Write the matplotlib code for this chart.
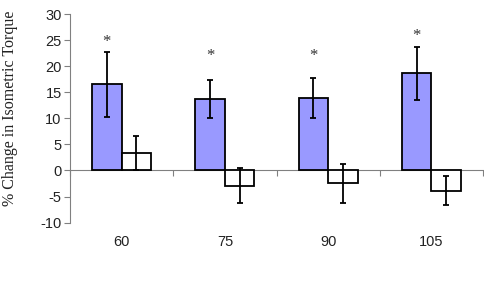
"""Isometric torque change by velocity, grouped bars with error bars."""

import matplotlib.pyplot as plt
import matplotlib.transforms as mtransforms
import numpy as np

categories = ["60", "75", "90", "105"]
group_a = [16.5, 13.7, 13.9, 18.6]
group_a_err = [6.3, 3.6, 3.9, 5.0]
group_b = [3.3, -2.9, -2.5, -3.9]
group_b_err = [3.3, 3.3, 3.8, 2.8]
star_y = [25.3, 22.5, 22.5, 26.4]

plt.rcParams["font.family"] = ["Liberation Sans", "DejaVu Sans"]
plt.rcParams["axes.unicode_minus"] = False

fig = plt.figure(figsize=(4.84, 2.83), dpi=100)
ax = fig.add_axes([70 / 484, 1 - 222.6 / 283, 413 / 484, (222.6 - 14) / 283])

x = np.arange(len(categories))
w = 0.286
err_kw = dict(ecolor="black", elinewidth=1.3, capsize=2.5, capthick=1.3)
ax.bar(x - w / 2, group_a, w, yerr=group_a_err, color="#9999ff",
       edgecolor="black", linewidth=1.3, error_kw=err_kw, zorder=3)
ax.bar(x + w / 2, group_b, w, yerr=group_b_err, color="white",
       edgecolor="black", linewidth=1.3, error_kw=err_kw, zorder=3)

for xi, yi in zip(x, star_y):
    ax.text(xi - w / 2, yi - 0.6, "*", ha="center", va="center", fontsize=12,
            family="Liberation Serif", color="#333333")

ax.set_xlim(-0.5, len(categories) - 0.5)
ax.set_ylim(-10, 30)
ax.set_yticks(np.arange(-10, 31, 5))
ax.tick_params(axis="y", labelsize=10.5, length=4, color="#808080", pad=2,
               labelcolor="#222222")

ax.spines["top"].set_visible(False)
ax.spines["right"].set_visible(False)
ax.spines["left"].set_color("#808080")
ax.spines["bottom"].set_color("#808080")
ax.spines["bottom"].set_position(("data", 0))
ax.spines["bottom"].set_zorder(1)

ax.set_xticks(np.arange(-0.5, len(categories)))
ax.set_xticklabels([])
ax.tick_params(axis="x", length=4, color="#808080", direction="out")

trans = mtransforms.blended_transform_factory(ax.transData, ax.transAxes)
for xi, lab in zip(x, categories):
    ax.text(xi, -0.095, lab, ha="center", va="center", fontsize=10.5,
            transform=trans, color="#222222")

ax.set_ylabel("% Change in Isometric Torque", family="Liberation Serif",
              fontsize=11.5, color="#222222")
ax.yaxis.set_label_coords(-0.125, 0.547)

fig.savefig("out.png", dpi=100)
